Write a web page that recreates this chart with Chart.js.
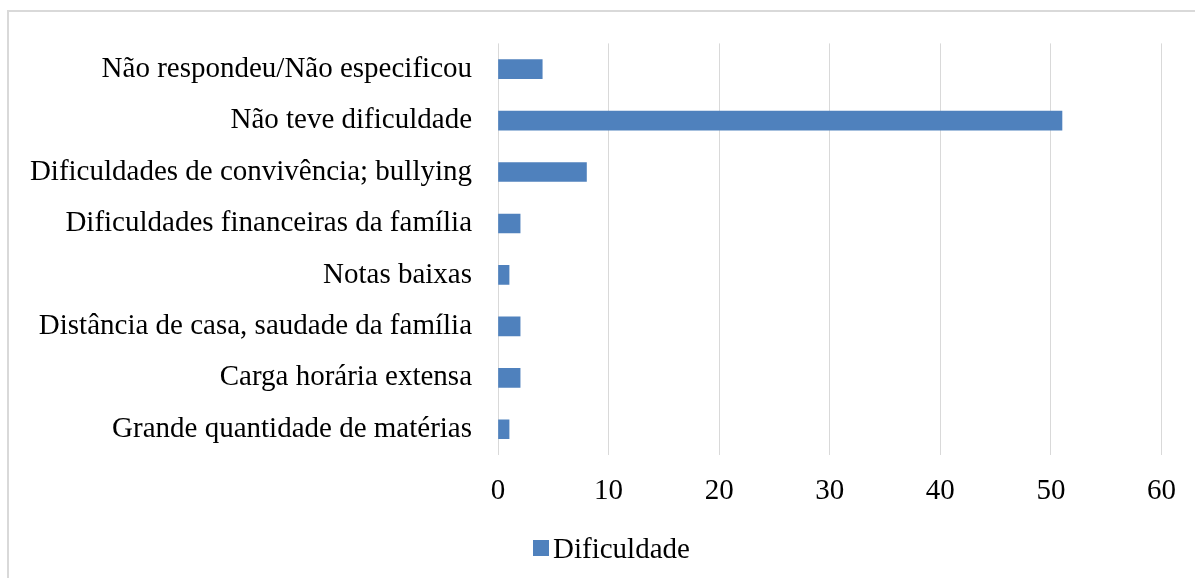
<!DOCTYPE html>
<html>
<head>
<meta charset="utf-8">
<script src="https://cdn.jsdelivr.net/npm/chart.js@4"></script>
<style>
  html, body { margin: 0; padding: 0; background: #fff; overflow: hidden; }
  #frame {
    position: absolute; left: 7px; top: 10px; width: 1188px; height: 568px;
    border-top: 2px solid #d9d9d9; border-left: 2px solid #d9d9d9; box-sizing: border-box;
  }
  #chart { position: absolute; left: 0; top: 0; }
  #legend {
    position: absolute; left: 533px; top: 530px; height: 36px;
    display: flex; align-items: center;
    font-family: 'Liberation Serif', 'Times New Roman', serif; font-size: 29px; color: #000;
  }
  #legend .box { width: 16px; height: 16px; margin-right: 4px; }
</style>
</head>
<body>
<div id="frame"></div>
<canvas id="chart" width="1195" height="578"></canvas>
<div id="legend"></div>
<script>
// ============================================
// Data
// ============================================
const categories = [
  'Não respondeu/Não especificou',
  'Não teve dificuldade',
  'Dificuldades de convivência; bullying',
  'Dificuldades financeiras da família',
  'Notas baixas',
  'Distância de casa, saudade da família',
  'Carga horária extensa',
  'Grande quantidade de matérias'
];
const seriesName = 'Dificuldade';
const seriesValues = [4, 51, 8, 2, 1, 2, 2, 1];
const xTicks = [0, 10, 20, 30, 40, 50, 60];

const FONT = "'Liberation Serif', 'Times New Roman', serif";
const BAR_COLOR = '#4f81bd';
const GRID_COLOR = '#d9d9d9';

const ctx = document.getElementById('chart').getContext('2d');

const chart = new Chart(ctx, {
  type: 'bar',
  data: {
    labels: categories,
    datasets: [{
      label: seriesName,
      data: seriesValues,
      backgroundColor: BAR_COLOR,
      borderWidth: 0,
      barThickness: 19
    }]
  },
  options: {
    indexAxis: 'y',
    responsive: false,
    animation: false,
    layout: {
      padding: { top: 40, right: 33, bottom: 53, left: 0 }
    },
    plugins: {
      legend: { display: false },
      tooltip: { enabled: false }
    },
    scales: {
      x: {
        min: 0,
        max: 60,
        afterBuildTicks: (scale) => {
          scale.ticks = xTicks.map(v => ({ value: v }));
        },
        afterFit: (scale) => { scale.height = 70; },
        grid: { color: GRID_COLOR, lineWidth: 1, drawTicks: false },
        border: { display: false },
        ticks: {
          color: '#000',
          padding: 19,
          font: { family: FONT, size: 29 }
        }
      },
      y: {
        afterFit: (scale) => { scale.width = 498; },
        grid: { display: false, drawTicks: false },
        border: { display: false },
        ticks: {
          color: '#000',
          padding: 26,
          font: { family: FONT, size: 29 }
        }
      }
    }
  }
});

// HTML legend
const legendEl = document.getElementById('legend');
chart.data.datasets.forEach(ds => {
  const box = document.createElement('span');
  box.className = 'box';
  box.style.background = ds.backgroundColor;
  const txt = document.createElement('span');
  txt.textContent = ds.label;
  legendEl.appendChild(box);
  legendEl.appendChild(txt);
});
</script>
</body>
</html>
